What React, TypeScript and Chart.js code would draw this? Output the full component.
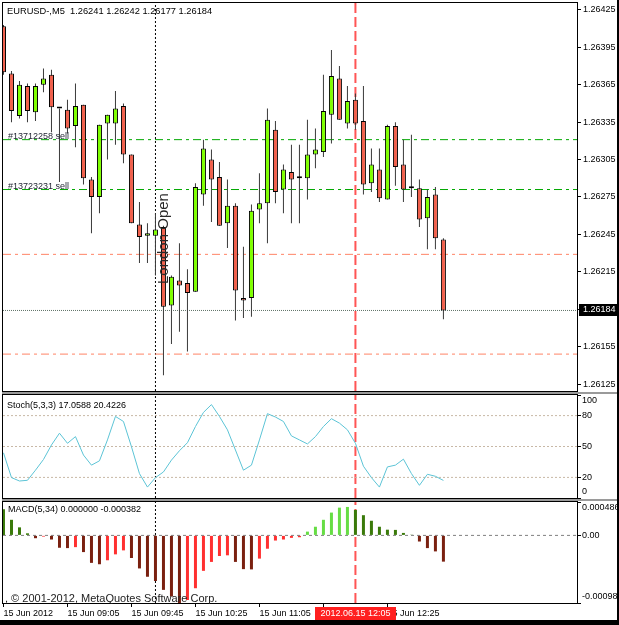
import { useEffect, useRef } from "react";
import { Chart, registerables } from "chart.js";
Chart.register(...registerables);

// ---------------- data ----------------
const SYMBOL = "EURUSD-,M5";
const TIMES = [
  "08:25","08:30","08:35","08:40","08:45","08:50","08:55","09:00","09:05","09:10",
  "09:15","09:20","09:25","09:30","09:35","09:40","09:45","09:50","09:55","10:00",
  "10:05","10:10","10:15","10:20","10:25","10:30","10:35","10:40","10:45","10:50",
  "10:55","11:00","11:05","11:10","11:15","11:20","11:25","11:30","11:35","11:40",
  "11:45","11:50","11:55","12:00","12:05","12:10","12:15","12:20","12:25","12:30",
  "12:35","12:40","12:45","12:50","12:55","13:00",
];
const OPEN = [
  1.26412,1.26374,1.26340,1.26364,1.26343,1.26365,1.26373,1.26346,1.26345,1.26332,
  1.26349,1.26289,1.26275,1.26334,1.26334,1.26348,1.26309,1.26253,1.26244,1.26244,
  1.26251,1.26188,1.26208,1.26206,1.26199,1.26277,1.26305,1.26291,1.26254,1.26268,
  1.26194,1.26194,1.26265,1.26270,1.26329,1.26281,1.26295,1.26290,1.26290,1.26309,
  1.26311,1.26341,1.26370,1.26334,1.26353,1.26336,1.26286,1.26297,1.26273,1.26332,
  1.26301,1.26282,1.26282,1.26258,1.26277,1.26241,
];
const HIGH = [
  1.26413,1.26376,1.26368,1.26366,1.26366,1.26378,1.26377,1.26346,1.26353,1.26366,
  1.26349,1.26291,1.26333,1.26341,1.26360,1.26350,1.26309,1.26271,1.26254,1.26262,
  1.26252,1.26212,1.26238,1.26217,1.26286,1.26321,1.26313,1.26303,1.26289,1.26270,
  1.26235,1.26269,1.26294,1.26346,1.26336,1.26301,1.26317,1.26317,1.26337,1.26330,
  1.26373,1.26393,1.26380,1.26364,1.26358,1.26364,1.26314,1.26314,1.26333,1.26335,
  1.26321,1.26325,1.26289,1.26281,1.26283,1.26242,
];
const LOW = [
  1.26373,1.26335,1.26338,1.26335,1.26336,1.26359,1.26327,1.26287,1.26326,1.26315,
  1.26285,1.26246,1.26262,1.26305,1.26317,1.26302,1.26254,1.26222,1.26222,1.26212,
  1.26132,1.26157,1.26167,1.26151,1.26199,1.26268,1.26255,1.26252,1.26234,1.26176,
  1.26178,1.26179,1.26254,1.26238,1.26270,1.26262,1.26254,1.26254,1.26273,1.26298,
  1.26307,1.26318,1.26337,1.26330,1.26329,1.26277,1.26279,1.26271,1.26273,1.26284,
  1.26271,1.26275,1.26251,1.26233,1.26233,1.26177,
];
const CLOSE = [
  1.26375,1.26344,1.26365,1.26344,1.26364,1.26370,1.26347,1.26346,1.26330,1.26348,
  1.26290,1.26275,1.26333,1.26341,1.26346,1.26309,1.26254,1.26243,1.26246,1.26249,
  1.26187,1.26211,1.26204,1.26198,1.26283,1.26314,1.26289,1.26252,1.26268,1.26200,
  1.26192,1.26264,1.26270,1.26337,1.26279,1.26297,1.26289,1.26290,1.26309,1.26313,
  1.26344,1.26372,1.26337,1.26352,1.26334,1.26285,1.26301,1.26274,1.26332,1.26299,
  1.26281,1.26282,1.26257,1.26275,1.26242,1.26184,
];
const PRICE_TICKS = [1.26125,1.26155,1.26185,1.26215,1.26245,1.26275,1.26305,1.26335,1.26365,1.26395,1.26425];
const CURRENT_PRICE = 1.26184;
const ORDER_LINES = [
  { price: 1.26321, label: "#13712258 sell" },
  { price: 1.26281, label: "#13723231 sell" },
];
const STOP_LINES = [1.26229, 1.26149];
const LONDON_OPEN = { time: "10:00", label: "London Open" };
const CURSOR = { time: "12:05", label: "2012.06.15 12:05" };

const STOCH = [
  43.9,19.8,16.5,17.2,27.0,37.4,51.5,62.9,53.1,59.6,
  41.7,31.9,36.1,56.4,79.2,74.3,49.8,23.7,10.6,19.8,
  25.3,36.8,45.9,53.7,69.4,83.1,90.7,79.2,66.2,46.6,
  27.0,31.9,56.4,81.9,78.6,74.3,60.3,56.4,52.5,59.6,
  69.4,77.0,72.7,66.2,53.1,30.9,19.8,10.6,30.2,31.9,
  37.7,23.7,12.3,23.0,21.1,17.0588,
];
const STOCH_SIGNAL_LAST = 20.4226;
const STOCH_TICKS = [0, 20, 50, 80, 100];
const STOCH_LEVELS = [20, 50, 80];

const MACD = [
  0.000381,0.000227,0.000117,0.000030,-0.000041,-0.000017,-0.000060,-0.000180,-0.000185,-0.000171,
  -0.000243,-0.000400,-0.000420,-0.000362,-0.000276,-0.000218,-0.000329,-0.000481,-0.000602,-0.000664,
  -0.000793,-0.000889,-0.000984,-0.000940,-0.000769,-0.000516,-0.000386,-0.000300,-0.000290,-0.000386,
  -0.000491,-0.000495,-0.000338,-0.000194,-0.000075,-0.000060,-0.000036,-0.000027,0.000055,0.000126,
  0.000227,0.000332,0.000404,0.000414,0.000371,0.000294,0.000213,0.000126,0.000083,0.000080,
  0.000036,0.000010,-0.000089,-0.000185,-0.000233,-0.000382,
];
const MACD_SIGNAL_LAST = 0.0;
const MACD_TICKS = [-0.000984, 0, 0.000486];
const MACD_TICK_LABELS = ["-0.000984", "0.00", "0.000486"];

const AXIS_TICKS = [
  { time: "08:25", label: "15 Jun 2012" },
  { time: "09:05", label: "15 Jun 09:05" },
  { time: "09:45", label: "15 Jun 09:45" },
  { time: "10:25", label: "15 Jun 10:25" },
  { time: "11:05", label: "15 Jun 11:05" },
  { time: "11:45", label: "15 Jun 11:45" },
  { time: "12:25", label: "15 Jun 12:25" },
];
const COPYRIGHT = ", © 2001-2012, MetaQuotes Software Corp.";

// ---------------- view / style ----------------
const FONT = '"Liberation Sans", Arial, sans-serif';
const fnt = (s: number) => `${s}px ${FONT}`;
const X_MIN = -0.06;
const X_MAX = 71.7;
const P_MIN = 1.261194;
const P_MAX = 1.264306;
const AXIS_W = 42;
const BULL = "#7FFF00";
const BEAR = "#F0604C";
const WICK = "#3a3a3a";
const GREEN_LINE = "#00A800";
const STOP_COLOR = "#FF8466";
const CURSOR_RED = "#FF5555";
const idx = (t: string) => TIMES.indexOf(t);

const hLine = (y: number, color: string, dash: number[], order = 5) => ({
  type: "line" as const,
  data: [{ x: X_MIN, y }, { x: X_MAX, y }],
  borderColor: color,
  borderWidth: 1,
  borderDash: dash,
  pointRadius: 0,
  order,
});
const vLine = (t: string, y0: number, y1: number, color: string, dash: number[], width: number) => ({
  type: "line" as const,
  data: [{ x: idx(t), y: y0 }, { x: idx(t), y: y1 }],
  borderColor: color,
  borderWidth: width,
  borderDash: dash,
  pointRadius: 0,
  order: 6,
});

const xHidden = { type: "linear" as const, min: X_MIN, max: X_MAX, display: false, offset: false, grid: { offset: false } };

const rightAxis = (min: number, max: number, ticks: number[], showLabels: boolean, fmt?: (v: number) => string) => ({
  type: "linear" as const,
  position: "right" as const,
  min,
  max,
  afterBuildTicks: (s: any) => { s.ticks = ticks.map((v) => ({ value: v })); },
  afterFit: (s: any) => { s.width = AXIS_W; s.paddingTop = 0; s.paddingBottom = 0; },
  ticks: {
    display: showLabels,
    autoSkip: false,
    padding: 2,
    color: "#000",
    font: { size: 9, family: FONT },
    callback: (v: any) => (fmt ? fmt(Number(v)) : String(v)),
  },
  grid: { drawOnChartArea: false, drawTicks: true, tickLength: 4, color: "#000" },
  border: { display: true, color: "#000" },
});

const frame = (ctx: CanvasRenderingContext2D, a: any) => {
  ctx.strokeStyle = "#000";
  ctx.lineWidth = 1;
  ctx.strokeRect(a.left - 0.5, a.top - 0.5, a.right - a.left + 1, a.bottom - a.top + 1);
};

function mainConfig(): any {
  const n = CLOSE.length - 1;
  return {
    type: "bar",
    data: {
      datasets: [
        {
          type: "bar",
          data: TIMES.map((_, i) => ({ x: i, y: [OPEN[i], CLOSE[i]] })),
          backgroundColor: (c: any) => (CLOSE[c.dataIndex] >= OPEN[c.dataIndex] ? BULL : BEAR),
          borderColor: "#000",
          borderWidth: 1,
          borderSkipped: false,
          barThickness: 5,
          minBarLength: 2,
          grouped: false,
          inflateAmount: 0,
          order: 0,
        },
        {
          type: "bar",
          data: TIMES.map((_, i) => ({ x: i, y: [LOW[i], HIGH[i]] })),
          backgroundColor: WICK,
          borderWidth: 0,
          barThickness: 1,
          grouped: false,
          inflateAmount: 0,
          order: 1,
        },
        ...ORDER_LINES.map((o) => hLine(o.price, GREEN_LINE, [8, 4, 3, 4])),
        ...STOP_LINES.map((p) => hLine(p, STOP_COLOR, [8, 4, 3, 4])),
        hLine(CURRENT_PRICE, "#5F7268", [1, 1]),
        vLine(LONDON_OPEN.time, P_MIN, P_MAX, "#000", [2, 2], 1),
        vLine(CURSOR.time, P_MIN, P_MAX, CURSOR_RED, [10, 4], 2),
      ],
    },
    options: {
      animation: false,
      responsive: false,
      devicePixelRatio: 1,
      events: [],
      layout: { padding: { left: 3, top: 3, bottom: 1, right: 0 } },
      plugins: { legend: { display: false }, tooltip: { enabled: false } },
      scales: {
        x: xHidden,
        y: rightAxis(P_MIN, P_MAX, PRICE_TICKS, true, (v) => v.toFixed(5)),
      },
    },
    plugins: [
      {
        id: "mainOverlay",
        afterDraw(chart: any) {
          const { ctx, chartArea: a, scales } = chart;
          const x = scales.x, y = scales.y;
          ctx.save();
          frame(ctx, a);
          ctx.fillStyle = "#000";
          ctx.font = fnt(9.3);
          ctx.textAlign = "left";
          ctx.textBaseline = "middle";
          ctx.fillText(
            `${SYMBOL}  ${OPEN[n].toFixed(5)} ${HIGH[n].toFixed(5)} ${LOW[n].toFixed(5)} ${CLOSE[n].toFixed(5)}`,
            7, 11
          );
          ctx.fillStyle = "#1e2230";
          ctx.font = fnt(9);
          ctx.textBaseline = "alphabetic";
          ORDER_LINES.forEach((o) => ctx.fillText(o.label, 8, y.getPixelForValue(o.price) - 1));
          // London Open, rotated
          ctx.save();
          ctx.translate(x.getPixelForValue(idx(LONDON_OPEN.time)) + 1, 284);
          ctx.rotate(-Math.PI / 2);
          ctx.font = fnt(15);
          ctx.textBaseline = "top";
          ctx.fillStyle = "#2a2a2a";
          ctx.fillText(LONDON_OPEN.label, 0, 0);
          ctx.restore();
          // current price box
          const py = Math.round(y.getPixelForValue(CURRENT_PRICE));
          ctx.fillStyle = "#000";
          ctx.fillRect(a.right + 2, py - 6, 40, 12);
          ctx.fillStyle = "#fff";
          ctx.font = fnt(9);
          ctx.textBaseline = "middle";
          ctx.fillText(CURRENT_PRICE.toFixed(5), a.right + 6, py);
          ctx.restore();
        },
      },
    ],
  };
}

function stochConfig(): any {
  return {
    type: "line",
    data: {
      datasets: [
        {
          data: STOCH.map((v, i) => ({ x: i, y: v })),
          borderColor: "#5CC4D6",
          borderWidth: 1,
          pointRadius: 0,
          tension: 0,
          order: 0,
        },
        ...STOCH_LEVELS.map((l) => hLine(l, "#C8B8A6", [2, 2])),
        vLine(LONDON_OPEN.time, 0, 100, "#000", [2, 2], 1),
        vLine(CURSOR.time, 0, 100, CURSOR_RED, [10, 4], 2),
      ],
    },
    options: {
      animation: false,
      responsive: false,
      devicePixelRatio: 1,
      events: [],
      layout: { padding: { left: 3, top: 3, bottom: 2, right: 0 } },
      plugins: { legend: { display: false }, tooltip: { enabled: false } },
      scales: { x: xHidden, y: rightAxis(0, 100, STOCH_TICKS, false) },
    },
    plugins: [
      {
        id: "stochOverlay",
        beforeDraw(chart: any) {
          const { ctx, width } = chart;
          ctx.save();
          ctx.fillStyle = "#9a9a9a";
          ctx.fillRect(2, 0, width - 4, 2);
          ctx.fillRect(2, 107, width - 4, 1);
          ctx.restore();
        },
        afterDraw(chart: any) {
          const { ctx, chartArea: a, scales } = chart;
          ctx.save();
          frame(ctx, a);
          ctx.font = fnt(9);
          ctx.fillStyle = "#000";
          ctx.textAlign = "left";
          ctx.textBaseline = "middle";
          ctx.fillText(`Stoch(5,3,3) ${STOCH[STOCH.length - 1].toFixed(4)} ${STOCH_SIGNAL_LAST.toFixed(4)}`, 7, 13.5);
          STOCH_TICKS.forEach((v) => {
            let py = scales.y.getPixelForValue(v);
            if (v === 100) py += 6;
            if (v === 0) py -= 6;
            ctx.fillText(String(v), a.right + 5, py);
          });
          ctx.restore();
        },
      },
    ],
  };
}

function macdConfig(): any {
  const col = (i: number) => {
    const v = MACD[i];
    const prev = i > 0 ? MACD[i - 1] : Infinity;
    if (v >= 0) return v > prev ? "#66DD44" : "#3A7A0A";
    return v > prev ? "#FF3030" : "#7A2010";
  };
  return {
    type: "bar",
    data: {
      datasets: [
        {
          type: "bar",
          data: MACD.map((v, i) => ({ x: i, y: v })),
          backgroundColor: (c: any) => col(c.dataIndex),
          borderWidth: 0,
          barThickness: 3,
          grouped: false,
          inflateAmount: 0,
          order: 0,
        },
        hLine(0, "#808080", [3, 3]),
        vLine(LONDON_OPEN.time, MACD_TICKS[0], MACD_TICKS[2], "#000", [2, 2], 1),
        vLine(CURSOR.time, MACD_TICKS[0], MACD_TICKS[2], CURSOR_RED, [10, 4], 2),
      ],
    },
    options: {
      animation: false,
      responsive: false,
      devicePixelRatio: 1,
      events: [],
      layout: { padding: { left: 3, top: 2, bottom: 0, right: 0 } },
      plugins: { legend: { display: false }, tooltip: { enabled: false } },
      scales: {
        x: {
          type: "linear",
          position: "bottom",
          min: X_MIN,
          max: X_MAX,
          offset: false,
          afterBuildTicks: (s: any) => { s.ticks = AXIS_TICKS.map((t) => ({ value: idx(t.time) })); },
          afterFit: (s: any) => { s.height = 17; s.paddingLeft = 0; s.paddingRight = 0; },
          ticks: {
            autoSkip: false,
            maxRotation: 0,
            minRotation: 0,
            align: "start",
            padding: 1,
            color: "#000",
            font: { size: 9, family: FONT },
            callback: (_v: any, i: number) => AXIS_TICKS[i]?.label ?? "",
          },
          grid: { drawOnChartArea: false, drawTicks: true, tickLength: 4, color: "#000", offset: false },
          border: { display: true, color: "#000" },
        },
        y: rightAxis(MACD_TICKS[0], MACD_TICKS[2], MACD_TICKS, false),
      },
    },
    plugins: [
      {
        id: "macdOverlay",
        beforeDraw(chart: any) {
          const { ctx, width } = chart;
          ctx.save();
          ctx.fillStyle = "#9a9a9a";
          ctx.fillRect(2, 0, width - 4, 1);
          ctx.restore();
        },
        afterDraw(chart: any) {
          const { ctx, chartArea: a, scales } = chart;
          ctx.save();
          frame(ctx, a);
          ctx.font = fnt(9);
          ctx.fillStyle = "#000";
          ctx.textAlign = "left";
          ctx.textBaseline = "middle";
          ctx.fillText(`MACD(5,34) ${MACD_SIGNAL_LAST.toFixed(6)} ${MACD[MACD.length - 1].toFixed(6)}`, 8, 10);
          MACD_TICKS.forEach((v, k) => {
            let py = scales.y.getPixelForValue(v);
            if (k === 2) py += 6;
            if (k === 0) py -= 6;
            ctx.fillText(MACD_TICK_LABELS[k], a.right + 5, py);
          });
          ctx.font = fnt(11);
          ctx.fillStyle = "#222";
          ctx.fillText(COPYRIGHT, 5, 99);
          // cursor time box
          ctx.font = fnt(9);
          const cx = scales.x.getPixelForValue(idx(CURSOR.time));
          const w = ctx.measureText(CURSOR.label).width + 11;
          ctx.fillStyle = "#FF2020";
          ctx.fillRect(Math.round(cx - w / 2), a.bottom + 4, Math.round(w), 13);
          ctx.fillStyle = "#fff";
          ctx.textAlign = "center";
          ctx.fillText(CURSOR.label, cx, a.bottom + 10.5);
          ctx.restore();
        },
      },
    ],
  };
}

export default function App() {
  const mainRef = useRef<HTMLCanvasElement>(null);
  const stochRef = useRef<HTMLCanvasElement>(null);
  const macdRef = useRef<HTMLCanvasElement>(null);
  useEffect(() => {
    Chart.defaults.font.family = FONT;
    const charts = [
      new Chart(mainRef.current!, mainConfig()),
      new Chart(stochRef.current!, stochConfig()),
      new Chart(macdRef.current!, macdConfig()),
    ];
    return () => charts.forEach((c) => c.destroy());
  }, []);
  const abs = (top: number): any => ({ position: "absolute", left: 0, top, display: "block" });
  return (
    <div style={{ position: "absolute", left: 0, top: 0, width: 619, height: 625, background: "#fff", overflow: "hidden" }}>
      <canvas ref={mainRef} width={619} height={392} style={abs(0)} />
      <canvas ref={stochRef} width={619} height={108} style={abs(392)} />
      <canvas ref={macdRef} width={619} height={120} style={abs(500)} />
      <div style={{ position: "absolute", left: 617, top: 0, width: 2, height: 625, background: "#000" }} />
      <div style={{ position: "absolute", left: 0, top: 620, width: 619, height: 5, background: "#000" }} />
    </div>
  );
}
